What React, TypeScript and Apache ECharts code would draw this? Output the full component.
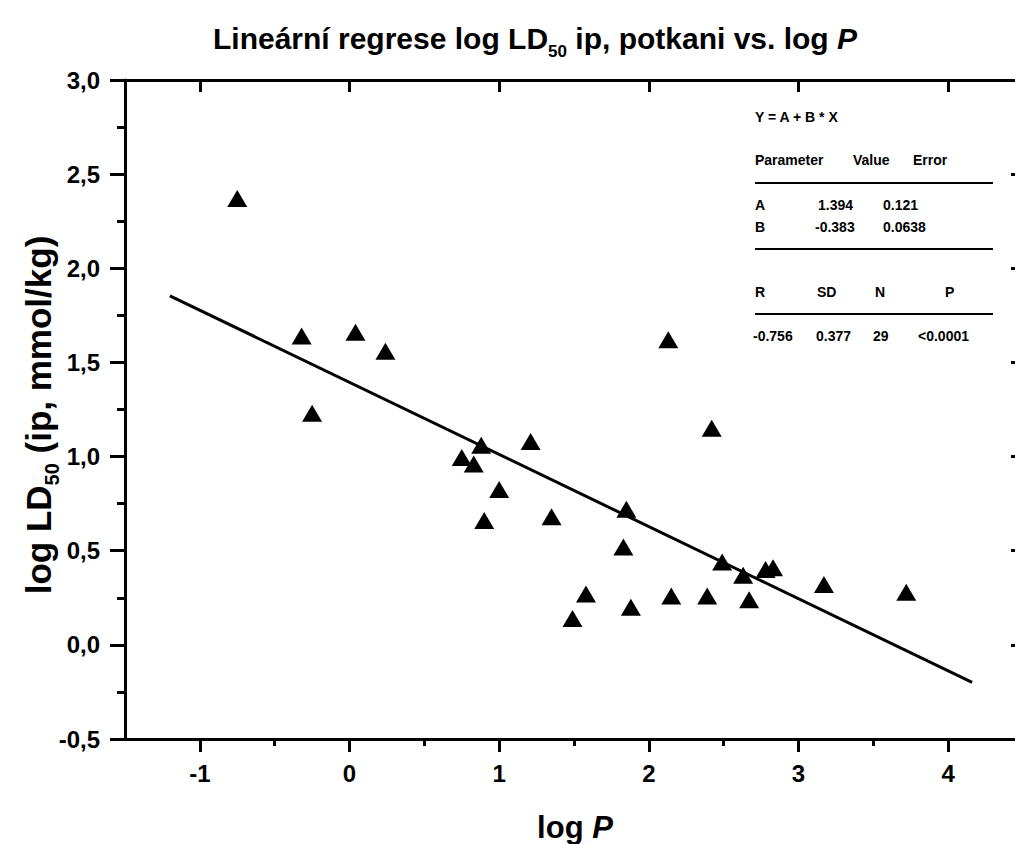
import React, { useEffect, useRef } from "react";
import * as echarts from "echarts";

// Data (log P vs log LD50)
const logP = [
  -0.75, -0.32, -0.25, 0.04, 0.24, 0.75, 0.83, 0.88, 0.9, 1.0, 1.21, 1.35, 1.49, 1.58,
  1.83, 1.85, 1.88, 2.13, 2.15, 2.39, 2.42, 2.49, 2.63, 2.67, 2.78, 2.83, 3.17, 3.72,
];
const logLD50 = [
  2.37, 1.64, 1.23, 1.66, 1.56, 0.995, 0.96, 1.06, 0.66, 0.825, 1.08, 0.68, 0.14, 0.27,
  0.52, 0.72, 0.2, 1.62, 0.26, 0.26, 1.15, 0.44, 0.37, 0.24, 0.4, 0.41, 0.32, 0.28,
];
// Regression line endpoints (Y = A + B*X)
const fitX = [-1.2, 4.16];
const fitY = [1.854, -0.199];

const xMajorTicks = [-1, 0, 1, 2, 3, 4];
const xMinorTicks = [-0.5, 0.5, 1.5, 2.5, 3.5];

const statsRows = [
  { y: 117, items: [{ x: 755, t: "Y = A + B * X" }] },
  { y: 160, items: [{ x: 755, t: "Parameter" }, { x: 853, t: "Value" }, { x: 913, t: "Error" }] },
  { y: 205, items: [{ x: 755, t: "A" }, { x: 818, t: "1.394" }, { x: 883, t: "0.121" }] },
  { y: 227, items: [{ x: 755, t: "B" }, { x: 815, t: "-0.383" }, { x: 883, t: "0.0638" }] },
  { y: 292, items: [{ x: 755, t: "R" }, { x: 817, t: "SD" }, { x: 875, t: "N" }, { x: 945, t: "P" }] },
  { y: 336, items: [{ x: 753, t: "-0.756" }, { x: 816, t: "0.377" }, { x: 873, t: "29" }, { x: 918, t: "<0.0001" }] },
];
const statsLinesY = [183, 249, 314];

const FONT = '"Liberation Sans", Arial, sans-serif';

export default function App() {
  const ref = useRef<HTMLDivElement>(null);
  useEffect(() => {
    if (!ref.current) return;
    const chart = echarts.init(ref.current, null, { renderer: "svg" });
    const axisLine = { show: true, onZero: false, lineStyle: { color: "#000", width: 3 } };
    const graphic: any[] = [];
    graphic.push({
      type: "text",
      x: 535,
      y: 38,
      style: {
        text: "{a|Lineární regrese log LD}{s|50}{a| ip, potkani vs. log }{i|P}",
        align: "center",
        verticalAlign: "middle",
        rich: {
          a: { fontFamily: FONT, fontWeight: "bold", fontSize: 30, lineHeight: 44, fill: "#000" },
          i: { fontFamily: FONT, fontWeight: "bold", fontStyle: "italic", fontSize: 30, lineHeight: 44, fill: "#000" },
          s: { fontFamily: FONT, fontWeight: "bold", fontSize: 17, lineHeight: 14, verticalAlign: "bottom", fill: "#000" },
        },
      },
    });
    graphic.push({
      type: "text",
      x: 575,
      y: 827,
      style: {
        text: "{a|log }{i|P}",
        align: "center",
        verticalAlign: "middle",
        rich: {
          a: { fontFamily: FONT, fontWeight: "bold", fontSize: 31, fill: "#000" },
          i: { fontFamily: FONT, fontWeight: "bold", fontStyle: "italic", fontSize: 31, fill: "#000" },
        },
      },
    });
    graphic.push({
      type: "text",
      x: 38,
      y: 415,
      rotation: Math.PI / 2,
      style: {
        text: "{a|log LD}{s|50}{a| (ip, mmol/kg)}",
        align: "center",
        verticalAlign: "middle",
        rich: {
          a: { fontFamily: FONT, fontWeight: "bold", fontSize: 35, lineHeight: 48, fill: "#000" },
          s: { fontFamily: FONT, fontWeight: "bold", fontSize: 20, lineHeight: 16, verticalAlign: "bottom", fill: "#000" },
        },
      },
    });
    statsRows.forEach((row) =>
      row.items.forEach((it) =>
        graphic.push({
          type: "text",
          x: it.x,
          y: row.y,
          style: {
            text: it.t,
            fill: "#000",
            font: `bold 14px ${FONT}`,
            align: "left",
            verticalAlign: "middle",
          },
        })
      )
    );
    statsLinesY.forEach((y) =>
      graphic.push({
        type: "line",
        shape: { x1: 755, y1: y, x2: 993, y2: y },
        style: { stroke: "#000", lineWidth: 2 },
      })
    );

    chart.setOption({
      animation: false,
      backgroundColor: "#fff",
      grid: { left: 125, right: 0, top: 80, bottom: 105, containLabel: false },
      xAxis: [
        {
          type: "value",
          min: -1.5,
          max: 4.5,
          position: "bottom",
          axisLine,
          splitLine: { show: false },
          axisTick: { show: true, customValues: xMajorTicks, length: 13, lineStyle: { width: 3, color: "#000" } },
          axisLabel: {
            customValues: xMajorTicks,
            margin: 22,
            color: "#000",
            fontFamily: FONT,
            fontWeight: "bold",
            fontSize: 24,
            formatter: (v: number) => String(v),
          },
        },
        {
          type: "value",
          min: -1.5,
          max: 4.5,
          position: "bottom",
          axisLine: { show: false, onZero: false },
          splitLine: { show: false },
          axisTick: { show: true, customValues: xMinorTicks, length: 7, lineStyle: { width: 3, color: "#000" } },
          axisLabel: { show: false },
        },
        {
          type: "value",
          min: -1.5,
          max: 4.5,
          position: "top",
          axisLine,
          splitLine: { show: false },
          axisTick: { show: true, inside: true, customValues: xMajorTicks, length: 12, lineStyle: { width: 3, color: "#000" } },
          axisLabel: { show: false },
        },
      ],
      yAxis: [
        {
          type: "value",
          min: -0.5,
          max: 3.0,
          interval: 0.5,
          position: "left",
          axisLine,
          splitLine: { show: false },
          axisTick: { show: true, length: 15, lineStyle: { width: 3, color: "#000" } },
          minorTick: { show: true, splitNumber: 2, length: 8, lineStyle: { width: 3, color: "#000" } },
          minorSplitLine: { show: false },
          axisLabel: {
            margin: 25,
            color: "#000",
            fontFamily: FONT,
            fontWeight: "bold",
            fontSize: 24,
            formatter: (v: number) => v.toFixed(1).replace(".", ","),
          },
        },
        {
          type: "value",
          min: -0.5,
          max: 3.0,
          interval: 0.5,
          position: "right",
          axisLine,
          splitLine: { show: false },
          axisTick: { show: true, inside: true, length: 12, lineStyle: { width: 3, color: "#000" } },
          axisLabel: { show: false },
        },
      ],
      series: [
        {
          type: "line",
          xAxisIndex: 0,
          yAxisIndex: 0,
          data: fitX.map((x, i) => [x, fitY[i]]),
          symbol: "none",
          lineStyle: { color: "#000", width: 3 },
          silent: true,
          z: 2,
        },
        {
          type: "scatter",
          xAxisIndex: 0,
          yAxisIndex: 0,
          data: logP.map((x, i) => [x, logLD50[i]]),
          symbol: "triangle",
          symbolSize: [20, 17],
          itemStyle: { color: "#000", opacity: 1 },
          z: 3,
        },
      ],
      graphic,
    });
    return () => chart.dispose();
  }, []);
  return (
    <div
      ref={ref}
      style={{ position: "fixed", left: 0, top: 0, width: 1023, height: 844, background: "#fff" }}
    />
  );
}
